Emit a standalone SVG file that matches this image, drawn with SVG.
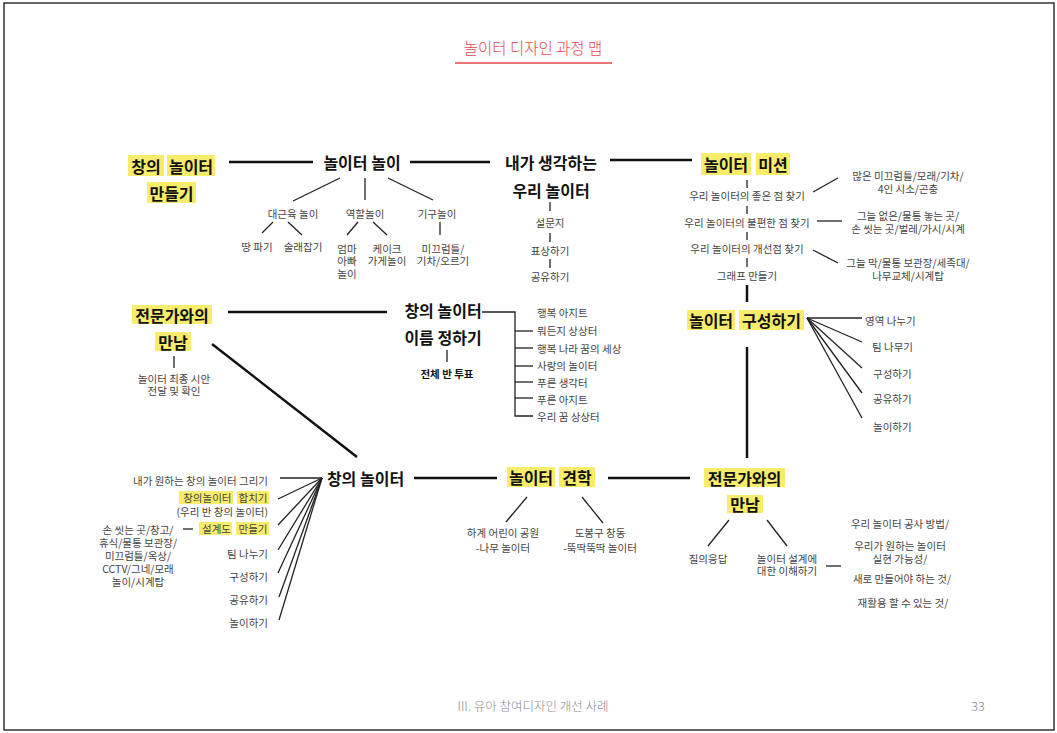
<svg xmlns="http://www.w3.org/2000/svg" width="1057" height="733" viewBox="0 0 1057 733">
<style>
text{font-family:"Noto Sans CJK KR","Noto Sans",sans-serif;dominant-baseline:central}
.b{font-size:16px;font-weight:700;fill:#111;text-anchor:middle}
.s{font-size:10.5px;fill:#444;text-anchor:middle}
.sl{font-size:10.5px;fill:#444;text-anchor:start}
.sr{font-size:10.5px;fill:#444;text-anchor:end}
.hl{fill:#f7ec6b}
.m{stroke:#111;stroke-width:2.5;fill:none}
.t{stroke:#222;stroke-width:1.3;fill:none}
</style>
<rect x="0" y="0" width="1057" height="733" fill="#fff"/>
<rect x="4" y="3" width="1050" height="727" fill="none" stroke="#333" stroke-width="1.5"/>
<g id="title">
<text x="533" y="47" style="font-size:15.5px;fill:#e5484d;text-anchor:middle;font-weight:300">놀이터 디자인 과정 맵</text>
<line x1="455" y1="63" x2="612" y2="63" stroke="#e5484d" stroke-width="1.5"/>
</g>
<g id="connectors">
<line class="m" x1="229" y1="162" x2="313" y2="162"/>
<line class="m" x1="410" y1="162" x2="490" y2="162"/>
<line class="m" x1="610" y1="160" x2="692" y2="160"/>
<line class="m" x1="228" y1="312" x2="387" y2="312"/>
<line class="m" x1="212" y1="344" x2="357" y2="457"/>
<line class="m" x1="747" y1="285" x2="747" y2="302"/>
<line class="m" x1="747" y1="347" x2="747" y2="458"/>
<line class="m" x1="414" y1="478" x2="497" y2="478"/>
<line class="m" x1="608" y1="478" x2="690" y2="478"/>
<line class="t" x1="340" y1="178" x2="293" y2="201"/>
<line class="t" x1="365" y1="178" x2="365" y2="200"/>
<line class="t" x1="388" y1="178" x2="433" y2="200"/>
<line class="t" x1="273" y1="222" x2="262" y2="233"/>
<line class="t" x1="288" y1="222" x2="302" y2="235"/>
<line class="t" x1="358" y1="222" x2="347" y2="235"/>
<line class="t" x1="373" y1="222" x2="387" y2="235"/>
<line class="t" x1="440" y1="222" x2="440" y2="235"/>
<line class="t" x1="550" y1="202" x2="550" y2="211"/>
<line class="t" x1="550" y1="233" x2="550" y2="242"/>
<line class="t" x1="550" y1="259" x2="550" y2="268"/>
<line class="t" x1="747" y1="180" x2="747" y2="188"/>
<line class="t" x1="747" y1="206" x2="747" y2="214"/>
<line class="t" x1="747" y1="232" x2="747" y2="240"/>
<line class="t" x1="747" y1="258" x2="747" y2="267"/>
<line class="t" x1="813" y1="192" x2="838" y2="178"/>
<line class="t" x1="817" y1="221" x2="842" y2="221"/>
<line class="t" x1="813" y1="250" x2="838" y2="263"/>
<line class="t" x1="174" y1="356" x2="174" y2="368"/>
<line class="t" x1="447" y1="350" x2="447" y2="362"/>
<polyline class="t" points="482,312 515,312 515,416 533,416"/>
<line class="t" x1="515" y1="331" x2="533" y2="331"/>
<line class="t" x1="515" y1="348" x2="533" y2="348"/>
<line class="t" x1="515" y1="366" x2="533" y2="366"/>
<line class="t" x1="515" y1="382" x2="533" y2="382"/>
<line class="t" x1="515" y1="398" x2="533" y2="398"/>
<line class="t" x1="807" y1="318" x2="862" y2="318"/>
<line class="t" x1="807" y1="318" x2="862" y2="342"/>
<line class="t" x1="807" y1="318" x2="862" y2="368"/>
<line class="t" x1="807" y1="318" x2="862" y2="393"/>
<line class="t" x1="807" y1="318" x2="862" y2="418"/>
<line class="t" x1="322" y1="478" x2="280" y2="478"/>
<line class="t" x1="322" y1="478" x2="278" y2="499"/>
<line class="t" x1="322" y1="478" x2="278" y2="525"/>
<line class="t" x1="322" y1="478" x2="278" y2="550"/>
<line class="t" x1="322" y1="478" x2="278" y2="573"/>
<line class="t" x1="322" y1="478" x2="279" y2="597"/>
<line class="t" x1="322" y1="478" x2="279" y2="620"/>
<line class="t" x1="183" y1="529" x2="193" y2="529"/>
<line class="t" x1="527" y1="497" x2="506" y2="522"/>
<line class="t" x1="582" y1="497" x2="603" y2="523"/>
<line class="t" x1="729" y1="520" x2="708" y2="546"/>
<line class="t" x1="767" y1="520" x2="787" y2="546"/>
<line class="t" x1="826" y1="566" x2="841" y2="566"/>
</g>
<g id="n-make">
<rect class="hl" x="128" y="155" width="36" height="21"/>
<rect class="hl" x="167" y="155" width="48" height="21"/>
<rect class="hl" x="147" y="182" width="49" height="21"/>
<text class="b" x="146" y="166">창의</text>
<text class="b" x="191" y="166">놀이터</text>
<text class="b" x="171.5" y="192.5">만들기</text>
</g>
<g id="n-play">
<text class="b" x="362" y="162">놀이터 놀이</text>
<text class="s" x="293" y="213">대근육 놀이</text>
<text class="s" x="365" y="213">역할놀이</text>
<text class="s" x="437" y="213">기구놀이</text>
<text class="s" x="257" y="246">땅 파기</text>
<text class="s" x="303" y="246">술래잡기</text>
<text class="s" x="347" y="248">엄마</text>
<text class="s" x="347" y="260.5">아빠</text>
<text class="s" x="347" y="273">놀이</text>
<text class="s" x="387" y="248">케이크</text>
<text class="s" x="387" y="260.5">가게놀이</text>
<text class="s" x="443" y="248">미끄럼틀/</text>
<text class="s" x="443" y="260.5">기차/오르기</text>
</g>
<g id="n-think">
<text class="b" x="551" y="162">내가 생각하는</text>
<text class="b" x="551" y="190">우리 놀이터</text>
<text class="s" x="550" y="222">설문지</text>
<text class="s" x="550" y="250">표상하기</text>
<text class="s" x="550" y="276">공유하기</text>
</g>
<g id="n-mission">
<rect class="hl" x="701" y="153" width="50" height="22"/>
<rect class="hl" x="756" y="153" width="34" height="22"/>
<text class="b" x="726" y="164">놀이터</text>
<text class="b" x="773" y="164">미션</text>
<text class="s" x="747" y="195">우리 놀이터의 좋은 점 찾기</text>
<text class="s" x="747" y="222">우리 놀이터의 불편한 점 찾기</text>
<text class="s" x="747" y="248">우리 놀이터의 개선점 찾기</text>
<text class="s" x="747" y="275">그래프 만들기</text>
<text class="s" x="908" y="175">많은 미끄럼틀/모래/기차/</text>
<text class="s" x="908" y="188">4인 시소/곤충</text>
<text class="s" x="908" y="215">그늘 없은/물통 놓는 곳/</text>
<text class="s" x="908" y="228">손 씻는 곳/벌레/가시/시계</text>
<text class="s" x="908" y="262">그늘 막/물통 보관장/세족대/</text>
<text class="s" x="908" y="275">나무교체/시계탑</text>
</g>
<g id="n-expert1">
<rect class="hl" x="132" y="305" width="80" height="19"/>
<rect class="hl" x="155" y="332" width="36" height="19"/>
<text class="b" x="172" y="314.5">전문가와의</text>
<text class="b" x="173" y="341.5">만남</text>
<text class="s" x="174" y="378">놀이터 최종 시안</text>
<text class="s" x="174" y="390.5">전달 및 확인</text>
</g>
<g id="n-name">
<text class="b" x="443" y="310">창의 놀이터</text>
<text class="b" x="443" y="337">이름 정하기</text>
<text class="s" x="447" y="373" style="fill:#111;font-weight:700">전체 반 투표</text>
<text class="sl" x="537" y="312">행복 아지트</text>
<text class="sl" x="537" y="330">뭐든지 상상터</text>
<text class="sl" x="537" y="348">행복 나라 꿈의 세상</text>
<text class="sl" x="537" y="365">사랑의 놀이터</text>
<text class="sl" x="537" y="382">푸른 생각터</text>
<text class="sl" x="537" y="399">푸른 아지트</text>
<text class="sl" x="537" y="416">우리 꿈 상상터</text>
</g>
<g id="n-compose">
<rect class="hl" x="687" y="310" width="48" height="20"/>
<rect class="hl" x="739" y="310" width="65" height="20"/>
<text class="b" x="711" y="320">놀이터</text>
<text class="b" x="771.5" y="320">구성하기</text>
<text class="sl" x="865" y="320">영역 나누기</text>
<text class="sl" x="872" y="346">팀 나무기</text>
<text class="sl" x="873" y="373">구성하기</text>
<text class="sl" x="873" y="398">공유하기</text>
<text class="sl" x="873" y="426">놀이하기</text>
</g>
<g id="n-creative">
<text class="b" x="365.5" y="478">창의 놀이터</text>
<text class="sr" x="268" y="480">내가 원하는 창의 놀이터 그리기</text>
<rect class="hl" x="179" y="491" width="54" height="13"/>
<rect class="hl" x="237" y="491" width="32" height="13"/>
<text class="sr" x="231.5" y="497.5">창의놀이터</text>
<text class="sr" x="267.5" y="497.5">합치기</text>
<text class="sr" x="268" y="511">(우리 반 창의 놀이터)</text>
<rect class="hl" x="199" y="522" width="33" height="13"/>
<rect class="hl" x="236" y="522" width="33" height="13"/>
<text class="sr" x="231" y="528.5">설계도</text>
<text class="sr" x="267.5" y="528.5">만들기</text>
<text class="sr" x="268" y="553">팀 나누기</text>
<text class="sr" x="268" y="576">구성하기</text>
<text class="sr" x="268" y="599">공유하기</text>
<text class="sr" x="268" y="622">놀이하기</text>
<text class="s" x="138" y="529">손 씻는 곳/창고/</text>
<text class="s" x="138" y="542">휴식/물통 보관장/</text>
<text class="s" x="138" y="555">미끄럼틀/옥상/</text>
<text class="s" x="138" y="568">CCTV/그네/모래</text>
<text class="s" x="138" y="581">놀이/시계탑</text>
</g>
<g id="n-visit">
<rect class="hl" x="507" y="467" width="48" height="20"/>
<rect class="hl" x="559" y="467" width="36" height="20"/>
<text class="b" x="531" y="477">놀이터</text>
<text class="b" x="577" y="477">견학</text>
<text class="s" x="503" y="532">하계 어린이 공원</text>
<text class="s" x="503" y="547">-나무 놀이터</text>
<text class="s" x="600" y="532">도봉구 창동</text>
<text class="s" x="600" y="547">-뚝딱뚝딱 놀이터</text>
</g>
<g id="n-expert2">
<rect class="hl" x="704" y="468" width="81" height="19"/>
<rect class="hl" x="727" y="495" width="36" height="18"/>
<text class="b" x="744.5" y="477.5">전문가와의</text>
<text class="b" x="745" y="504">만남</text>
<text class="s" x="708" y="558">질의응답</text>
<text class="s" x="787" y="558">놀이터 설계에</text>
<text class="s" x="787" y="570.5">대한 이해하기</text>
<text class="s" x="900" y="523">우리 놀이터 공사 방법/</text>
<text class="s" x="900" y="545">우리가 원하는 놀이터</text>
<text class="s" x="900" y="558">실현 가능성/</text>
<text class="s" x="902" y="578">새로 만들어야 하는 것/</text>
<text class="s" x="903" y="602">재활용 할 수 있는 것/</text>
</g>
<g id="footer">
<text x="533" y="705" style="font-size:12.5px;fill:#8a8a8a;text-anchor:middle;font-weight:300">III. 유아 참여디자인 개선 사례</text>
<text x="978" y="705" style="font-size:12.5px;fill:#8a8a8a;text-anchor:middle;font-weight:300">33</text>
</g>
</svg>
